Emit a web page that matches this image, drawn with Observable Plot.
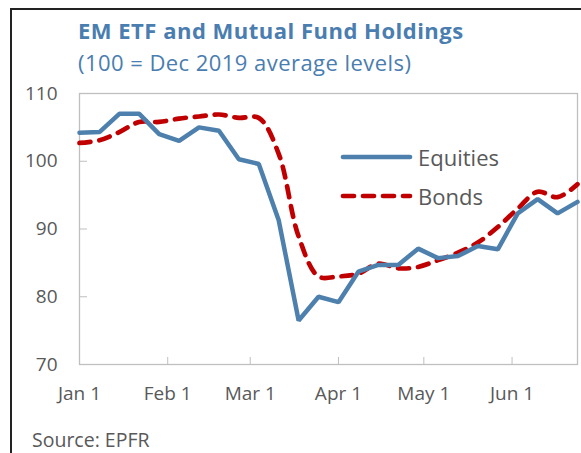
<!DOCTYPE html>
<html>
<head>
<meta charset="utf-8">
<script src="https://cdn.jsdelivr.net/npm/d3@7"></script>
<script src="https://cdn.jsdelivr.net/npm/@observablehq/plot@0.6"></script>
<style>
  html, body { margin: 0; padding: 0; background: #fff; overflow: hidden; }
  body { width: 581px; height: 453px; position: relative; font-family: "Open Sans", sans-serif; }
  #border { position: absolute; left: 10px; top: 8px; width: 600px; height: 500px; border: 2px solid #222; box-sizing: border-box; }
  #title { position: absolute; left: 78px; top: 15px; font-size: 22px; font-weight: 700; letter-spacing: 0.5px; color: #4a7db0; white-space: nowrap; }
  #subtitle { position: absolute; left: 78px; top: 47px; font-size: 22px; letter-spacing: 0.45px; color: #4a7db0; white-space: nowrap; }
  #chart { position: absolute; left: 0; top: 80px; }
  #legend { position: absolute; left: 340px; top: 142px; }
  .lg { position: absolute; left: 0; height: 30px; width: 200px; }
  .lg svg { position: absolute; left: 0; top: 0; }
  .lg span { position: absolute; left: 78px; top: 0px; font-size: 22px; color: #595959; white-space: nowrap; line-height: 30px; }
  #source { position: absolute; left: 32px; top: 426px; font-size: 19.5px; color: #595959; white-space: nowrap; }
</style>
</head>
<body>
<div id="border"></div>
<div id="title">EM ETF and Mutual Fund Holdings</div>
<div id="subtitle">(100 = Dec 2019 average levels)</div>
<div id="chart"></div>
<div id="legend"></div>
<div id="source">Source: EPFR</div>
<script>
const dates = ["2020-01-01","2020-01-08","2020-01-15","2020-01-22","2020-01-29","2020-02-05","2020-02-12","2020-02-19","2020-02-26",
  "2020-03-04","2020-03-11","2020-03-18","2020-03-25","2020-04-01","2020-04-08","2020-04-15","2020-04-22","2020-04-29",
  "2020-05-06","2020-05-13","2020-05-20","2020-05-27","2020-06-03","2020-06-10","2020-06-17","2020-06-24"];
const equities = [104.2,104.3,107.0,107.0,104.0,103.0,105.0,104.5,100.3,99.6,91.3,76.5,80.0,79.2,83.7,84.7,84.7,87.1,85.7,86.0,87.5,87.0,92.3,94.4,92.3,94.0];
const bonds = [102.7,103.1,104.3,105.8,105.8,106.3,106.6,106.9,106.4,106.4,101.1,88.9,83.0,83.0,83.4,84.9,84.2,84.4,85.4,86.5,88.0,90.3,93.0,95.5,94.7,96.6];
const yTicks = [70,80,90,100,110];
const xTickDates = ["2020-01-01","2020-02-01","2020-03-01","2020-04-01","2020-05-01","2020-06-01"];
const xTickLabels = ["Jan 1","Feb 1","Mar 1","Apr 1","May 1","Jun 1"];
const seriesNames = ["Equities","Bonds"];
const seriesColors = ["#4e80ae","#c00000"];

const parse = d3.utcParse("%Y-%m-%d");
const eqData = dates.map((d,i) => ({date: parse(d), value: equities[i]}));
const bdData = dates.map((d,i) => ({date: parse(d), value: bonds[i]}));
const xt = xTickDates.map(parse);
const labelOf = new Map(xt.map((d,i) => [+d, xTickLabels[i]]));

const axisColor = "#bfbfbf";
const textColor = "#595959";

const chart = Plot.plot({
  width: 581,
  height: 350,
  marginLeft: 79,
  marginRight: 4,
  marginTop: 13,
  marginBottom: 66,
  style: {fontFamily: "Open Sans, sans-serif", background: "transparent"},
  x: {type: "utc", domain: [parse(dates[0]), parse(dates[dates.length-1])]},
  y: {domain: [70,110]},
  marks: [
    Plot.axisY({ticks: yTicks.slice(1,-1), tickSize: 8, dx: 8, fill: "none", stroke: axisColor, label: null}),
    Plot.axisX({ticks: xt.slice(1), tickSize: 7, dy: -7, fill: "none", stroke: axisColor, label: null}),
    Plot.axisY({ticks: yTicks, tickSize: 0, tickPadding: 22, fontSize: 19, fill: textColor, label: null, tickFormat: d => String(d)}),
    Plot.axisX({ticks: xt, tickSize: 0, tickPadding: 22, fontSize: 19, fill: textColor, label: null, tickFormat: d => labelOf.get(+d)}),
    Plot.frame({stroke: axisColor, strokeWidth: 1.3}),
    Plot.lineY(bdData, {x: "date", y: "value", stroke: seriesColors[1], strokeWidth: 4.7, strokeDasharray: "11,9", strokeLinecap: "round", curve: "catmull-rom"}),
    Plot.lineY(eqData, {x: "date", y: "value", stroke: seriesColors[0], strokeWidth: 4.5, strokeLinejoin: "miter"})
  ]
});
document.getElementById("chart").appendChild(chart);

const legend = document.getElementById("legend");
seriesNames.forEach((name, i) => {
  const row = document.createElement("div");
  row.className = "lg";
  row.style.top = (i * 39) + "px";
  const dash = i === 1 ? 'stroke-dasharray="11,9"' : '';
  row.innerHTML = `<svg width="78" height="30"><line x1="3" x2="70" y1="15" y2="15" stroke="${seriesColors[i]}" stroke-width="4.7" stroke-linecap="round" ${dash}/></svg><span>${name}</span>`;
  legend.appendChild(row);
});
</script>
</body>
</html>
